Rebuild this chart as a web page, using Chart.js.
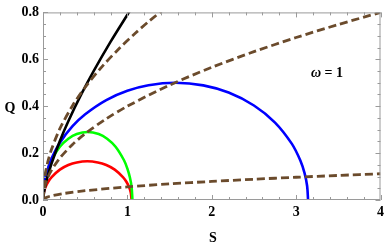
<!DOCTYPE html>
<html>
<head>
<meta charset="utf-8">
<script src="https://cdn.jsdelivr.net/npm/chart.js@4/dist/chart.umd.min.js"></script>
<style>
  html, body { margin: 0; padding: 0; background: #fff; }
  canvas { display: block; }
</style>
</head>
<body>
<canvas id="chart" width="388" height="249"></canvas>
<script>
// --- dados ---
const blueS = [0, 0.02, 0.05, 0.1, 0.2, 0.35, 0.5, 0.75, 1.0, 1.25, 1.57, 1.9, 2.2, 2.5, 2.75, 2.95, 3.05, 3.1, 3.13, 3.1416];
const blueQ = [0, 0.0795, 0.125, 0.1756, 0.2441, 0.3146, 0.3658, 0.4263, 0.4658, 0.4895, 0.5, 0.4889, 0.4581, 0.4031, 0.3303, 0.2393, 0.1683, 0.1143, 0.0606, 0];

const greenS = [0, 0.01, 0.03, 0.06, 0.1, 0.2, 0.3, 0.4, 0.53, 0.66, 0.76, 0.86, 0.96, 1.0, 1.03, 1.05, 1.06];
const greenQ = [0, 0.056, 0.0962, 0.134, 0.1695, 0.227, 0.2612, 0.2812, 0.29, 0.2812, 0.2612, 0.227, 0.1695, 0.134, 0.0962, 0.056, 0];

const redS = [0, 0.01, 0.03, 0.06, 0.1, 0.2, 0.3, 0.4, 0.525, 0.65, 0.75, 0.85, 0.95, 0.99, 1.02, 1.04, 1.05];
const redQ = [0, 0.032, 0.055, 0.0766, 0.0969, 0.1296, 0.1491, 0.1602, 0.165, 0.1602, 0.1491, 0.1296, 0.0969, 0.0766, 0.055, 0.032, 0];

const blackS = [0, 0.02, 0.05, 0.1, 0.2, 0.3, 0.45, 0.6, 0.8, 1.0, 1.05];
const blackQ = [0, 0.0491, 0.0942, 0.154, 0.2519, 0.3361, 0.4481, 0.5497, 0.6743, 0.79, 0.8178];

const dash1S = [0, 0.01, 0.03, 0.06, 0.1, 0.2, 0.35, 0.5, 0.7, 0.9, 1.1, 1.25, 1.45];
const dash1Q = [0, 0.068, 0.1178, 0.1666, 0.215, 0.3041, 0.4023, 0.4808, 0.5689, 0.6451, 0.7132, 0.7603, 0.8188];

const dash2S = [0, 0.01, 0.03, 0.06, 0.1, 0.2, 0.35, 0.5, 0.75, 1, 1.5, 2, 2.5, 3, 3.5, 4];
const dash2Q = [0, 0.04, 0.0693, 0.098, 0.1265, 0.1789, 0.2366, 0.2828, 0.3464, 0.4, 0.4899, 0.5657, 0.6325, 0.6928, 0.7483, 0.8];

const dash3S = [0, 0.01, 0.05, 0.1, 0.25, 0.5, 1, 1.5, 2, 2.5, 3, 3.5, 4];
const dash3Q = [0, 0.0056, 0.0125, 0.0177, 0.028, 0.0396, 0.056, 0.0686, 0.0792, 0.0885, 0.097, 0.1048, 0.112];

const xTicks = [0, 1, 2, 3, 4];
const yTicks = [0, 0.2, 0.4, 0.6, 0.8];
const xLabel = 'S';
const yLabel = 'Q';
const noteSymbol = 'ω';
const noteValue = ' = 1';
// --- fim dos dados ---

const FONT = '"Liberation Serif", "Times New Roman", serif';
const BROWN = '#6b4b2c';
const FRAME = '#9a9a9a';

const toPoints = (xs, ys) => xs.map((x, i) => ({ x, y: ys[i] }));

const solid = (xs, ys, color) => ({
    data: toPoints(xs, ys),
    borderColor: color,
    borderWidth: 2.6,
    showLine: true,
    pointRadius: 0,
    tension: 0.3,
    fill: false
});

const dashed = (xs, ys) => ({
    ...solid(xs, ys, BROWN),
    borderWidth: 2.8,
    borderDash: [8, 4]
});

// moldura com marcas para dentro + textos dos eixos
const framePlugin = {
    id: 'frame',
    afterDraw(chart) {
        const { ctx, chartArea: a, scales: { x, y } } = chart;
        ctx.save();
        ctx.strokeStyle = FRAME;
        ctx.lineWidth = 1;
        ctx.strokeRect(a.left + 0.5, a.top + 0.5, a.right - a.left - 1, a.bottom - a.top - 1);

        ctx.beginPath();
        for (let i = 0; i <= 20; i++) {
            const v = i * 0.2;
            const px = Math.round(x.getPixelForValue(v)) + 0.5;
            const len = i % 5 === 0 ? 5 : 3;
            ctx.moveTo(px, a.bottom); ctx.lineTo(px, a.bottom - len);
            ctx.moveTo(px, a.top); ctx.lineTo(px, a.top + len);
        }
        for (let i = 0; i <= 16; i++) {
            const v = i * 0.05;
            const py = Math.round(y.getPixelForValue(v)) + 0.5;
            const len = i % 4 === 0 ? 5 : 3;
            ctx.moveTo(a.left, py); ctx.lineTo(a.left + len, py);
            ctx.moveTo(a.right, py); ctx.lineTo(a.right - len, py);
        }
        ctx.stroke();

        ctx.fillStyle = '#000';
        ctx.textAlign = 'center';
        ctx.textBaseline = 'middle';
        ctx.font = `bold 14px ${FONT}`;
        ctx.fillText(yLabel, 10, 108);
        ctx.fillText(xLabel, 213, 238);

        // ω em itálico, "= 1" em negrito
        ctx.textAlign = 'left';
        ctx.font = `italic bold 14px ${FONT}`;
        const wSym = ctx.measureText(noteSymbol).width;
        ctx.font = `bold 14px ${FONT}`;
        const wVal = ctx.measureText(noteValue).width;
        const startX = 327 - (wSym + wVal) / 2;
        ctx.font = `italic bold 14px ${FONT}`;
        ctx.fillText(noteSymbol, startX, 73);
        ctx.font = `bold 14px ${FONT}`;
        ctx.fillText(noteValue, startX + wSym, 73);
        ctx.restore();
    }
};

new Chart(document.getElementById('chart'), {
    type: 'scatter',
    data: {
        datasets: [
            dashed(dash1S, dash1Q),
            dashed(dash2S, dash2Q),
            dashed(dash3S, dash3Q),
            solid(blackS, blackQ, '#000000'),
            solid(blueS, blueQ, '#0000ff'),
            solid(greenS, greenQ, '#00ff00'),
            solid(redS, redQ, '#ff0000')
        ]
    },
    options: {
        responsive: false,
        animation: false,
        layout: { padding: { top: 10, right: 7, left: 0, bottom: 0 } },
        plugins: { legend: { display: false }, tooltip: { enabled: false } },
        scales: {
            x: {
                type: 'linear',
                min: 0,
                max: 4,
                grid: { display: false, drawTicks: false },
                border: { display: false },
                afterBuildTicks: (s) => { s.ticks = xTicks.map(v => ({ value: v })); },
                afterFit: (s) => { s.height = 49; },
                ticks: {
                    padding: 4,
                    color: '#000',
                    font: { family: FONT, size: 14, weight: 'bold' },
                    callback: (v) => String(v)
                }
            },
            y: {
                type: 'linear',
                min: 0,
                max: 0.8,
                grid: { display: false, drawTicks: false },
                border: { display: false },
                afterBuildTicks: (s) => { s.ticks = yTicks.map(v => ({ value: v })); },
                afterFit: (s) => { s.width = 43; },
                ticks: {
                    padding: 4,
                    color: '#000',
                    font: { family: FONT, size: 14, weight: 'bold' },
                    callback: (v) => Number(v).toFixed(1)
                }
            }
        }
    },
    plugins: [framePlugin]
});
</script>
</body>
</html>
